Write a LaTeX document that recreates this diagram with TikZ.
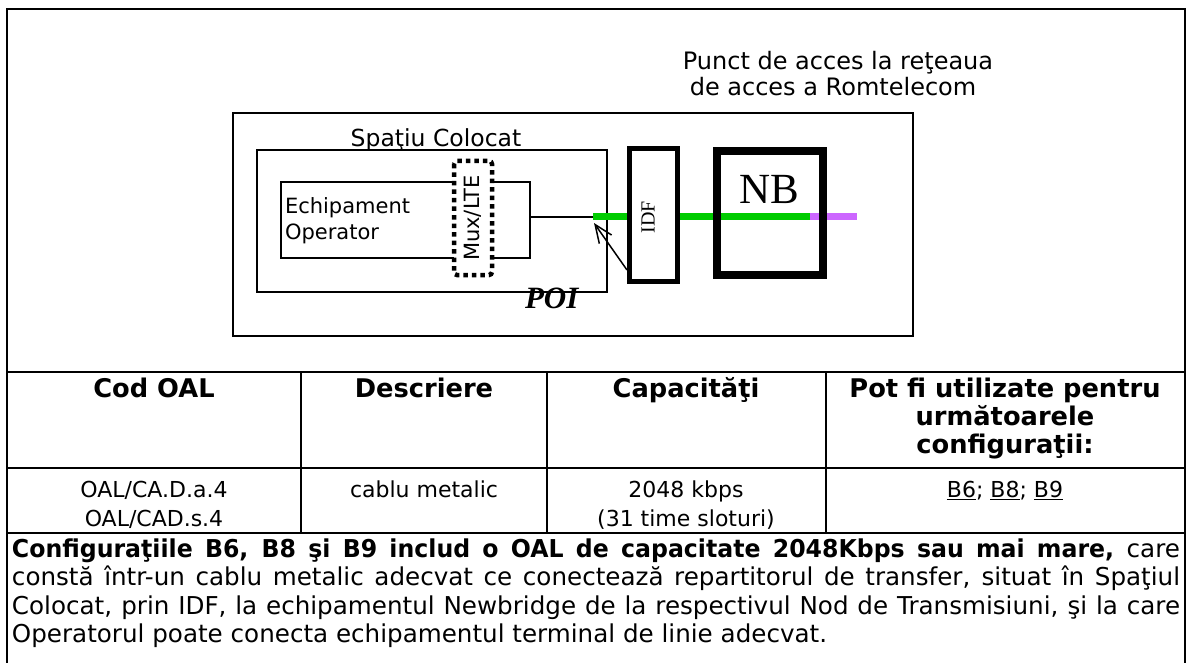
\documentclass[tikz,border=0pt]{standalone}
\usepackage{fontspec}
\setmainfont{DejaVu Sans}
\newfontfamily\parafont{DejaVu Sans}[BoldFeatures={FakeStretch=0.96}]
\newfontfamily\tnr{Liberation Serif}
\usetikzlibrary{arrows.meta}
\definecolor{cgreen}{RGB}{0,204,0}
\definecolor{cpurple}{RGB}{204,102,255}
\newcommand{\fs}[1]{\fontsize{#1pt}{#1pt}\selectfont}
\tikzset{
  frame/.style={line width=2.5pt},
  grid/.style={line width=2pt},
  thinbox/.style={draw, line width=1.5pt},
  lbl/.style={inner sep=0pt, outer sep=0pt, anchor=base},
  hd/.style={lbl, font=\fs{25.7}\bfseries},
  cell/.style={lbl, font=\fs{22}},
  para/.style={lbl, anchor=base west, font=\parafont\fs{24.6}},
}
\begin{document}
\begin{tikzpicture}[x=1pt,y=-1pt]
\useasboundingbox (0,0) rectangle (1188,663);
% outer frame
\draw[frame] (7,663) -- (7,9) -- (1185,9) -- (1185,663);
% diagram
\draw[thinbox] (233,113) rectangle (913,336);
\draw[thinbox] (257,150) rectangle (607,292);
\node[lbl, font=\fs{23.5}] (sc) at (436,147) {Spaţiu Colocat};
\draw[thinbox] (281,182) rectangle (530,258);
\node[lbl, anchor=base west, font=\fs{21}] (ech) at (285,214) {Echipament};
\node[lbl, anchor=base west, font=\fs{21}] (opr) at (285,240) {Operator};
\draw[line width=4.5pt, dash pattern=on 4.5pt off 4pt, fill=white, rounded corners=3pt] (454,161) rectangle (492,275);
\node[inner sep=0pt, rotate=90, font=\fs{21}] (mux) at (473,218) {Mux/LTE};
\coordinate (eqr) at (530,217);
\coordinate (g0) at (593,216);
\coordinate (g1) at (810,216);
\coordinate (p1) at (857,216);
\draw[line width=1.5pt] (eqr) -- (593,217);
\draw[cgreen, line width=7pt] (g0) -- (g1);
\draw[cpurple, line width=7pt] (g1) -- (p1);
\draw[line width=5pt, fill=white] (629.5,148.5) rectangle (677.5,281.5);
\node[inner sep=0pt, rotate=90, font=\tnr\fs{20}] (idf) at (648,217) {IDF};
\draw[line width=8pt] (717,151) rectangle (823,275);
\node[lbl, font=\tnr\fs{43}] (nb) at (769,204) {NB};
\coordinate (idfl) at (627,270);
\draw[line width=1.5pt, -{Straight Barb[length=18pt,width=15pt,line width=1.5pt]}] (idfl) -- (594,223);
\node[lbl, anchor=base west, font=\tnr\fs{31}\bfseries\itshape] (poi) at (525,308) {POI};
\node[lbl, font=\fs{24}] (pa1) at (838,70) {Punct de acces la reţeaua};
\node[lbl, font=\fs{24}] (pa2) at (833,96) {de acces a Romtelecom};
% table
\draw[grid] (7,372) -- (1185,372);
\draw[grid] (7,468) -- (1185,468);
\draw[grid] (7,533) -- (1185,533);
\draw[grid] (301,372) -- (301,533);
\draw[grid] (547,372) -- (547,533);
\draw[grid] (826,372) -- (826,533);
\node[hd] (h1) at (154,397) {Cod OAL};
\node[hd] (h2) at (424,397) {Descriere};
\node[hd] (h3) at (686,397) {Capacităţi};
\node[hd] (h4a) at (1005,397) {Pot fi utilizate pentru};
\node[hd] (h4b) at (1005,425) {următoarele};
\node[hd] (h4c) at (1005,453) {configuraţii:};
\node[cell] (c1a) at (154,497) {OAL/CA.D.a.4};
\node[cell] (c1b) at (154,526) {OAL/CAD.s.4};
\node[cell] (c2) at (424,497) {cablu metalic};
\node[cell] (c3a) at (686,497) {2048 kbps};
\node[cell] (c3b) at (686,526) {(31 time sloturi)};
\node[cell] (c4) at (1005,497) {\underline{B6}; \underline{B8}; \underline{B9}};
% paragraph
\node[para] (l1) at (12,557) {\makebox[1168pt][s]{\textbf{Configuraţiile B6, B8 şi B9 includ o OAL de capacitate 2048Kbps sau mai mare,} care}};
\node[para] (l2) at (12,585.5) {\makebox[1168pt][s]{constă într-un cablu metalic adecvat ce conectează repartitorul de transfer, situat în Spaţiul}};
\node[para] (l3) at (12,614) {\makebox[1168pt][s]{Colocat, prin IDF, la echipamentul Newbridge de la respectivul Nod de Transmisiuni, şi la care}};
\node[para] (l4) at (12,642.5) {Operatorul poate conecta echipamentul terminal de linie adecvat.};
\end{tikzpicture}
\end{document}
